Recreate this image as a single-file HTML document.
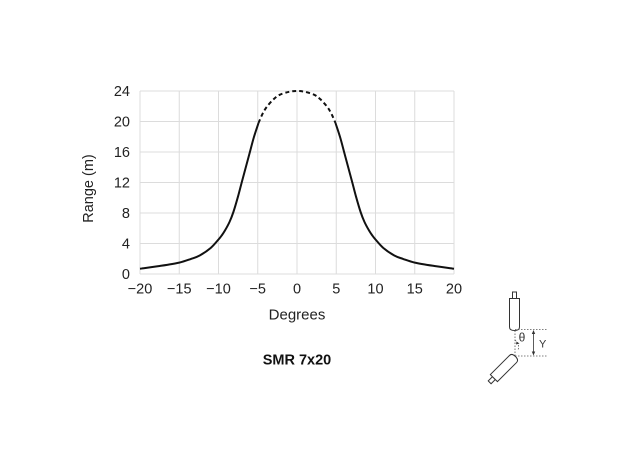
<!DOCTYPE html>
<html>
<head>
<meta charset="utf-8">
<style>
html,body{margin:0;padding:0;background:#fff;}
body{width:636px;height:451px;overflow:hidden;}
svg{display:block;}
text{font-family:"Liberation Sans",Arial,sans-serif;fill:#222;}
</style>
</head>
<body>
<svg width="636" height="451" viewBox="0 0 636 451" xmlns="http://www.w3.org/2000/svg">
  <rect x="0" y="0" width="636" height="451" fill="#fff"/>
  <!-- grid -->
  <g stroke="#dcdcdc" stroke-width="1" fill="none">
    <line x1="140" y1="91" x2="140" y2="274"/>
    <line x1="179.25" y1="91" x2="179.25" y2="274"/>
    <line x1="218.5" y1="91" x2="218.5" y2="274"/>
    <line x1="257.75" y1="91" x2="257.75" y2="274"/>
    <line x1="297" y1="91" x2="297" y2="274"/>
    <line x1="336.25" y1="91" x2="336.25" y2="274"/>
    <line x1="375.5" y1="91" x2="375.5" y2="274"/>
    <line x1="414.75" y1="91" x2="414.75" y2="274"/>
    <line x1="454" y1="91" x2="454" y2="274"/>
    <line x1="140" y1="91" x2="454" y2="91"/>
    <line x1="140" y1="121.5" x2="454" y2="121.5"/>
    <line x1="140" y1="152" x2="454" y2="152"/>
    <line x1="140" y1="182.5" x2="454" y2="182.5"/>
    <line x1="140" y1="213" x2="454" y2="213"/>
    <line x1="140" y1="243.5" x2="454" y2="243.5"/>
    <line x1="140" y1="274" x2="454" y2="274"/>
  </g>
  <!-- y tick labels -->
  <g font-size="14.5" text-anchor="end">
    <text x="130" y="96">24</text>
    <text x="130" y="126.5">20</text>
    <text x="130" y="157">16</text>
    <text x="130" y="187.5">12</text>
    <text x="130" y="218">8</text>
    <text x="130" y="248.5">4</text>
    <text x="130" y="279">0</text>
  </g>
  <!-- x tick labels -->
  <g font-size="14.5" text-anchor="middle">
    <text x="140" y="293.5">−20</text>
    <text x="179.25" y="293.5">−15</text>
    <text x="218.5" y="293.5">−10</text>
    <text x="257.75" y="293.5">−5</text>
    <text x="297" y="293.5">0</text>
    <text x="336.25" y="293.5">5</text>
    <text x="375.5" y="293.5">10</text>
    <text x="414.75" y="293.5">15</text>
    <text x="454" y="293.5">20</text>
  </g>
  <text x="297" y="319.5" font-size="15" text-anchor="middle">Degrees</text>
  <text x="0" y="0" font-size="14.5" text-anchor="middle" transform="translate(93,188.5) rotate(-90)">Range (m)</text>
  <text x="297" y="364.5" font-size="14.5" font-weight="bold" text-anchor="middle" style="fill:#111">SMR 7x20</text>

  <!-- curve -->
  <g fill="none" stroke="#111" stroke-width="2" stroke-linejoin="round" stroke-linecap="butt">
    <polyline class="sm" points="140,268.7 159.6,266 179.25,262.6 191,258.9 199.7,255.5 210.65,248 218.5,239.5 221.6,235.6 224.8,230.8 229.5,222 233.4,212 238.1,196.2 241.7,182.5 246,166.5 249.9,152 253.8,137.5 258.5,123"/>
    <polyline class="sm" points="454,268.7 434.4,266 414.75,262.6 403,258.9 394.3,255.5 383.35,248 375.5,239.5 372.4,235.6 369.2,230.8 364.5,222 360.6,212 355.9,196.2 352.3,182.5 348,166.5 344.1,152 340.2,137.5 335.5,123"/>
    <polyline class="sm" stroke-dasharray="4,3" points="258.5,123 262.5,113.9 266.7,107 273.45,99.4 279.7,94.8 289.15,91.8 297,91 304.85,91.8 314.3,94.8 320.55,99.4 327.3,107 331.5,113.9 335.5,123"/>
  </g>

  <!-- sensor icon -->
  <g stroke="#333" stroke-width="1" fill="#fff">
    <rect x="512.5" y="292" width="4" height="6.5"/>
    <path d="M509.5,298.5 H519.5 V327 Q519.5,330.5 514.5,330.5 Q509.5,330.5 509.5,327 Z"/>
  </g>
  <g stroke="#555" stroke-width="0.8" fill="none" stroke-dasharray="1.5,1.5">
    <line x1="515" y1="330.5" x2="515" y2="356"/>
    <line x1="515" y1="329.5" x2="548" y2="329.5"/>
    <line x1="515" y1="356" x2="548" y2="356"/>
    <path d="M515,340 Q520,345 518,350"/>
  </g>
  <g stroke="#333" stroke-width="0.8" fill="none">
    <line x1="533.5" y1="331" x2="533.5" y2="354.5"/>
  </g>
  <g fill="#333" stroke="none">
    <polygon points="533.5,330 531.8,334 535.2,334"/>
    <polygon points="533.5,355.5 531.8,351.5 535.2,351.5"/>
    <polygon points="516.5,341.5 519.5,343.5 516,344.5"/>
  </g>
  <text x="522" y="341.5" font-size="12" text-anchor="middle" style="fill:#333">θ</text>
  <text x="539" y="347.5" font-size="11" text-anchor="start" style="fill:#333">Y</text>
  <g transform="translate(504.5,367.5) rotate(45)" stroke="#333" stroke-width="1" fill="#fff">
    <rect x="-2" y="15" width="4" height="6"/>
    <path d="M-5,15 V-12 Q-5,-15.5 0,-15.5 Q5,-15.5 5,-12 V15 Z"/>
  </g>
</svg>
<script>
(function(){
  var ns="http://www.w3.org/2000/svg";
  var pls=document.querySelectorAll("polyline.sm");
  for(var i=0;i<pls.length;i++){
    var pl=pls[i];
    var pts=pl.getAttribute("points").trim().split(/\s+/).map(function(s){var a=s.split(",");return [parseFloat(a[0]),parseFloat(a[1])];});
    var d="M"+pts[0][0]+","+pts[0][1];
    for(var k=0;k<pts.length-1;k++){
      var p0=pts[k-1]||pts[k],p1=pts[k],p2=pts[k+1],p3=pts[k+2]||pts[k+1];
      var c1x=p1[0]+(p2[0]-p0[0])/6,c1y=p1[1]+(p2[1]-p0[1])/6;
      var c2x=p2[0]-(p3[0]-p1[0])/6,c2y=p2[1]-(p3[1]-p1[1])/6;
      d+=" C"+c1x.toFixed(2)+","+c1y.toFixed(2)+" "+c2x.toFixed(2)+","+c2y.toFixed(2)+" "+p2[0]+","+p2[1];
    }
    var path=document.createElementNS(ns,"path");
    path.setAttribute("d",d);
    if(pl.getAttribute("stroke-dasharray"))path.setAttribute("stroke-dasharray",pl.getAttribute("stroke-dasharray"));
    pl.parentNode.replaceChild(path,pl);
  }
})();
</script>
</body>
</html>
